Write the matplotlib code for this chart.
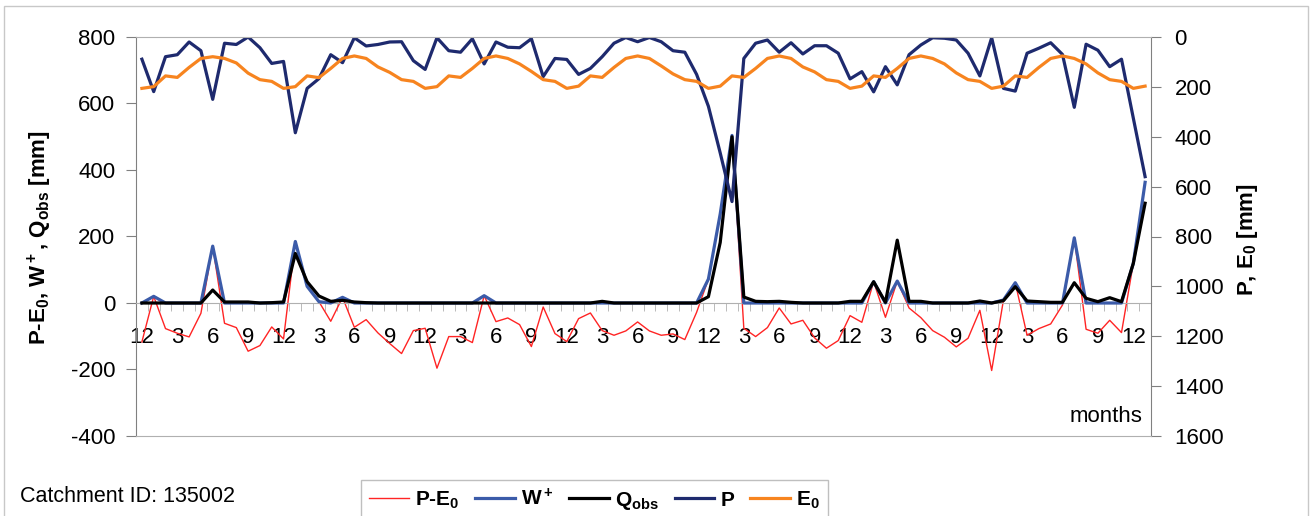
import numpy as np
import matplotlib
matplotlib.use("Agg")
import matplotlib.pyplot as plt
from matplotlib.lines import Line2D

plt.rcParams["font.family"] = ["Liberation Sans", "DejaVu Sans"]
plt.rcParams["mathtext.fontset"] = "custom"
plt.rcParams["mathtext.rm"] = "Liberation Sans:bold"
plt.rcParams["mathtext.it"] = "Liberation Sans:bold"
plt.rcParams["mathtext.bf"] = "Liberation Sans:bold"
plt.rcParams["axes.unicode_minus"] = False

# Monthly series, first value is December
precip = [89, 219, 79, 71, 20, 55, 250, 25, 30, 0, 43, 106,
          98, 384, 206, 167, 71, 103, 3, 36, 30, 20, 19, 95,
          130, 3, 55, 61, 7, 108, 20, 41, 43, 7, 159, 86,
          90, 150, 126, 79, 25, 2, 19, 2, 19, 55, 61, 150,
          278, 465, 660, 86, 25, 12, 61, 23, 68, 35, 35, 65,
          168, 139, 220, 119, 192, 71, 32, 3, 5, 12, 65, 156,
          3, 206, 217, 65, 45, 23, 70, 282, 29, 53, 119, 89,
          325, 560]

evap = [206, 199, 156, 162, 122, 86, 79, 86, 104, 145, 171, 178,
        206, 199, 156, 163, 126, 86, 76, 86, 120, 142, 171, 178,
        206, 199, 156, 162, 126, 86, 76, 86, 108, 138, 171, 178,
        206, 197, 156, 162, 122, 86, 76, 86, 116, 148, 171, 178,
        206, 197, 156, 162, 126, 86, 76, 86, 120, 140, 171, 178,
        206, 197, 156, 162, 126, 86, 76, 86, 108, 144, 171, 178,
        206, 197, 156, 162, 122, 86, 76, 86, 108, 144, 171, 178,
        206, 197]

q_obs = [0, 0, 0, 0, 0, 0, 39, 3, 3, 3, 0, 1,
         3, 149, 64, 21, 5, 8, 3, 1, 0, 0, 0, 0,
         0, 0, 0, 0, 0, 0, 0, 0, 0, 0, 0, 0,
         0, 0, 0, 5, 0, 0, 0, 0, 0, 0, 0, 0,
         19, 182, 500, 18, 5, 4, 5, 2, 0, 0, 0, 0,
         5, 5, 64, 2, 189, 5, 5, 0, 0, 0, 0, 6,
         0, 7, 49, 6, 4, 2, 2, 61, 14, 4, 16, 4,
         119, 300]

month_ticks = [0, 3, 6, 9, 12, 15, 18, 21, 24, 27, 30, 33, 36, 39, 42, 45,
               48, 51, 54, 57, 60, 63, 66, 69, 72, 75, 78, 81, 84]
month_labels = ["12", "3", "6", "9", "12", "3", "6", "9", "12", "3", "6", "9",
                "12", "3", "6", "9", "12", "3", "6", "9", "12", "3", "6", "9",
                "12", "3", "6", "9", "12"]

P = np.array(precip, dtype=float)
E0 = np.array(evap, dtype=float)
Q = np.array(q_obs, dtype=float)
p_minus_e0 = P - E0
w_plus = np.maximum(p_minus_e0, 0.0)
x = np.arange(len(P))

c_red = "#ff2424"
c_blue = "#3b5ba9"
c_navy = "#1e2a6e"
c_orange = "#f7841f"
c_axis = "#808080"
c_light = "#b0b0b0"

W, H = 1315, 516
fig = plt.figure(figsize=(W / 100, H / 100), dpi=100)
L, R, T, B = 136, 1151, 37, 436
ax = fig.add_axes([L / W, 1 - B / H, (R - L) / W, (B - T) / H])
ax2 = ax.twinx()

lw = 2.3
ax.plot(x, p_minus_e0, color=c_red, lw=1.0, zorder=2)
ax.plot(x, w_plus, color=c_blue, lw=lw, zorder=3)
ax.plot(x, Q, color="black", lw=lw, zorder=4)
ax2.plot(x, P, color=c_navy, lw=lw, zorder=2)
ax2.plot(x, E0, color=c_orange, lw=lw, zorder=3)

ax.set_xlim(-0.5, len(P) - 0.5)
ax.set_ylim(-400, 800)
ax2.set_ylim(1600, 0)

ax.set_yticks(np.arange(-400, 801, 200))
ax2.set_yticks(np.arange(0, 1601, 200))
ax.set_xticks(month_ticks)
ax.set_xticklabels(month_labels)
ax.set_xticks(np.arange(0.5, len(P) - 1, 1.0), minor=True)

ax.spines["bottom"].set_position(("data", 0))
ax.spines["bottom"].set_color(c_light)
ax.spines["top"].set_visible(False)
ax.spines["right"].set_visible(False)
ax.spines["left"].set_color(c_axis)
ax2.spines["left"].set_visible(False)
ax2.spines["top"].set_color(c_light)
ax2.spines["bottom"].set_color(c_light)
ax2.spines["right"].set_color(c_axis)

ax.tick_params(axis="x", which="major", length=0, labelsize=16, pad=17)
ax.tick_params(axis="x", which="minor", length=6, direction="out", color=c_light)
ax.tick_params(axis="y", length=7, direction="out", color=c_axis, labelsize=16, pad=8)
ax2.tick_params(axis="y", length=7, direction="out", color=c_axis, labelsize=16, pad=10)

fig.text(40 / W, 1 - 238 / H, "P-E$_0$, W$^+$, Q$_{obs}$ [mm]", rotation=90,
         ha="center", va="center", fontsize=16, fontweight="bold")
fig.text(1248 / W, 1 - 240 / H, "P, E$_0$ [mm]", rotation=90,
         ha="center", va="center", fontsize=16, fontweight="bold")
fig.text(1142 / W, 1 - 417 / H, "months", ha="right", va="center", fontsize=16)
fig.text(20 / W, 1 - 496 / H, "Catchment ID: 135002", ha="left", va="center", fontsize=15.5)

handles = [Line2D([], [], color=c_red, lw=1.0),
           Line2D([], [], color=c_blue, lw=lw),
           Line2D([], [], color="black", lw=lw),
           Line2D([], [], color=c_navy, lw=lw),
           Line2D([], [], color=c_orange, lw=lw)]
labels = ["P-E$_0$", "W$^+$", "Q$_{obs}$", "P", "E$_0$"]
leg = fig.legend(handles, labels, loc="upper left", bbox_to_anchor=(361 / W, 1 - 480 / H),
                 ncol=5, frameon=True, fancybox=False, edgecolor=c_light,
                 prop={"weight": "bold", "size": 15}, handlelength=1.9,
                 handletextpad=0.3, columnspacing=0.75, borderaxespad=0.0, borderpad=0.4)
leg.get_frame().set_linewidth(1.0)

# outer chart frame
frame = plt.Rectangle((4 / W, -0.01), (1308 - 4) / W, 1 - 6 / H + 0.01, transform=fig.transFigure,
                      fill=False, edgecolor="#c8c8c8", lw=1.0)
fig.patches.append(frame)

fig.savefig("out.png", dpi=100)
